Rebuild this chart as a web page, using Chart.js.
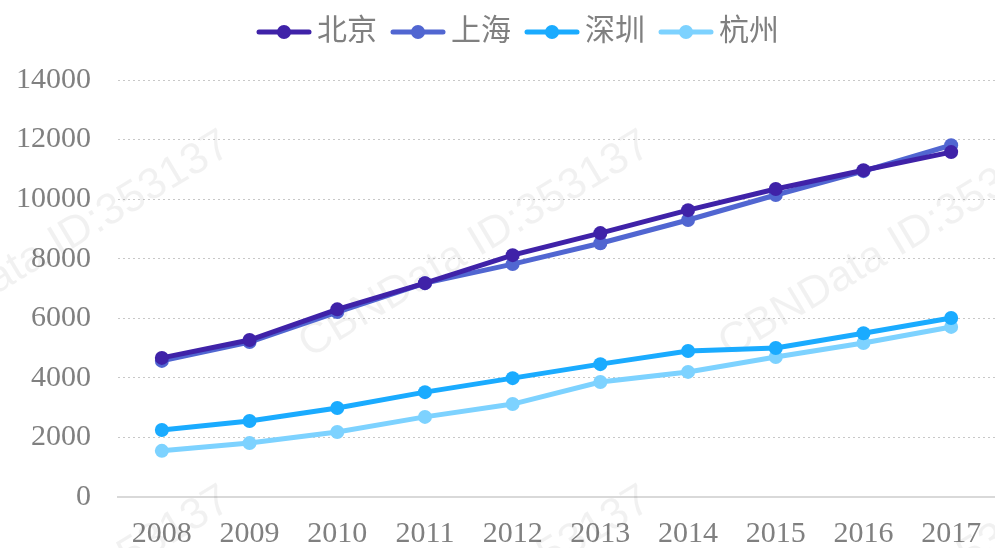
<!DOCTYPE html>
<html>
<head>
<meta charset="utf-8">
<script src="https://cdn.jsdelivr.net/npm/chart.js@4"></script>
<style>
  html, body { margin: 0; padding: 0; background: #fff; }
  #wrap { width: 995px; height: 548px; }
</style>
</head>
<body>
<div id="wrap"><canvas id="cityChart"></canvas></div>
<script>
// Data
const years = ['2008', '2009', '2010', '2011', '2012', '2013', '2014', '2015', '2016', '2017'];
const cities = ['北京', '上海', '深圳', '杭州'];
const beijing = [4670, 5270, 6300, 7180, 8120, 8860, 9630, 10340, 10970, 11580];
const shanghai = [4570, 5200, 6210, 7180, 7820, 8520, 9300, 10140, 10940, 11810];
const shenzhen = [2250, 2550, 2990, 3520, 3990, 4460, 4900, 5000, 5500, 6010];
const hangzhou = [1550, 1810, 2180, 2690, 3120, 3860, 4200, 4700, 5170, 5710];
const colors = ['#3F22A8', '#5166D1', '#1AABFF', '#7DD2FF'];

const serif = '"Liberation Serif", "Noto Sans CJK SC", serif';

// legend marker: short line with a dot in the middle
function legendMarker(color) {
    const c = document.createElement('canvas');
    c.width = 56;
    c.height = 18;
    const g = c.getContext('2d');
    g.strokeStyle = color;
    g.lineWidth = 5;
    g.lineCap = 'round';
    g.beginPath();
    g.moveTo(3, 9);
    g.lineTo(53, 9);
    g.stroke();
    g.fillStyle = color;
    g.beginPath();
    g.arc(28, 9, 7, 0, Math.PI * 2);
    g.fill();
    return c;
}

// faint watermark text behind the lines
const watermark = {
    id: 'watermark',
    beforeDatasetsDraw(chart) {
        const ctx = chart.ctx;
        ctx.save();
        ctx.fillStyle = 'rgba(0,0,0,0.055)';
        ctx.font = '44px "Liberation Sans", sans-serif';
        ctx.textAlign = 'center';
        ctx.textBaseline = 'middle';
        [[55, 245], [475, 245], [895, 245], [55, 600], [475, 600], [895, 600]].forEach(([x, y]) => {
            ctx.save();
            ctx.translate(x, y);
            ctx.rotate(-0.54);
            ctx.fillText('CBNData ID:353137', 0, 0);
            ctx.restore();
        });
        ctx.restore();
    }
};

// fixed legend height so the plot starts lower, legend nudged right
const legendSpace = {
    id: 'legendSpace',
    beforeInit(chart) {
        const fit = chart.legend.fit;
        chart.legend.fit = function () {
            fit.call(this);
            this.height = 86;
        };
    },
    afterLayout(chart) {
        chart.legend.left += 17;
        chart.legend.right += 17;
    }
};

const seriesValues = [beijing, shanghai, shenzhen, hangzhou];

const datasets = cities.map((name, i) => ({
    label: name,
    data: seriesValues[i],
    borderColor: colors[i],
    backgroundColor: colors[i],
    borderWidth: 5,
    pointRadius: 7,
    pointHoverRadius: 7,
    pointBackgroundColor: colors[i],
    pointBorderWidth: 0,
    tension: 0
}));

new Chart(document.getElementById('cityChart'), {
    type: 'line',
    data: { labels: years, datasets: datasets },
    plugins: [watermark, legendSpace],
    options: {
        responsive: true,
        maintainAspectRatio: false,
        animation: false,
        layout: { autoPadding: false, padding: { left: 16, right: 0, top: -6, bottom: 0 } },
        plugins: {
            tooltip: { enabled: false },
            legend: {
                position: 'top',
                labels: {
                    usePointStyle: true,
                    pointStyleWidth: 36,
                    color: '#808080',
                    font: { family: serif, size: 30 },
                    padding: 23,
                    generateLabels(chart) {
                        return chart.data.datasets.map((ds, i) => ({
                            text: ds.label,
                            fontColor: '#808080',
                            pointStyle: legendMarker(colors[i]),
                            strokeStyle: colors[i],
                            fillStyle: colors[i],
                            lineWidth: 0,
                            datasetIndex: i
                        }));
                    }
                }
            }
        },
        scales: {
            x: {
                offset: true,
                grid: { display: false },
                border: { display: true, color: '#d9d9d9', width: 2 },
                ticks: {
                    color: '#808080',
                    font: { family: serif, size: 30 },
                    padding: 11,
                    maxRotation: 0
                },
                afterFit(scale) {
                    scale.height = 51;
                    scale.paddingLeft = 0;
                    scale.paddingRight = 0;
                }
            },
            y: {
                min: 0,
                max: 14000,
                ticks: {
                    stepSize: 2000,
                    color: '#808080',
                    font: { family: serif, size: 30 },
                    padding: 27,
                    callback: v => String(v)
                },
                grid: { color: '#c8c8c8', lineWidth: 1, drawTicks: false },
                border: { display: false, dash: [2, 3] },
                afterFit(scale) { scale.width = 102; }
            }
        }
    }
});
</script>
</body>
</html>
